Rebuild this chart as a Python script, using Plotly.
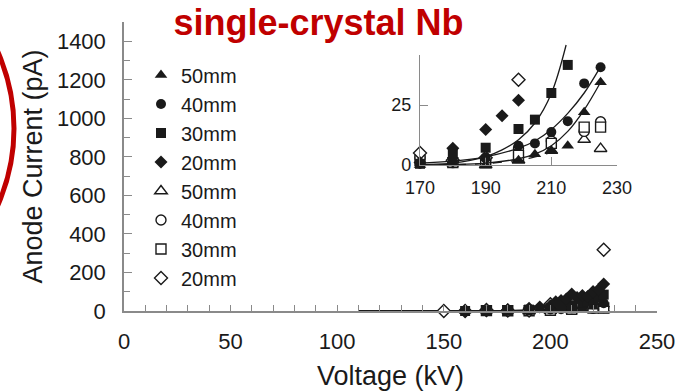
import plotly.graph_objects as go

# ---------------- data ----------------
# filled markers
v_50f = [160, 170, 180, 190, 200, 205, 210, 215, 220, 225]
i_50f = [0, 0, 0.5, 0, 2, 4.5, 6, 8, 22, 34.5]
v_40f = [160, 170, 180, 190, 200, 205, 210, 215, 220, 225]
i_40f = [0, 0.5, 2, 3, 8, 9, 13.7, 18.2, 34, 40.7]
v_30f = [160, 170, 180, 190, 200, 205, 210, 215, 217.5, 220, 222.5, 225]
i_30f = [0, 0.5, 5, 7.2, 15, 18.9, 30, 41.7, 50, 60, 72, 85]
v_20f = [160, 170, 180, 190, 195, 200, 202.5, 205, 207.5, 210, 212.5, 215, 217.5, 220, 222.5, 225]
i_20f = [0, 1, 7, 14.8, 20.5, 27, 48, 55, 62, 88, 70, 80, 75, 100, 110, 140]
# open markers
v_50o = [190, 200, 210, 220, 225]
i_50o = [0, 2, 6, 10.6, 6.8]
v_40o = [170, 180, 190, 200, 210, 220, 225]
i_40o = [3, 1, 2, 7, 10, 14, 18]
v_30o = [170, 180, 190, 200, 210, 220, 225]
i_30o = [2, 1, 1, 4, 9, 15.8, 15.8]
v_20o = [150, 160, 170, 180, 190, 200, 210, 220, 225]
i_20o = [0, 0.5, 5, 2, 3, 35.5, 60, 95, 318]

# fitted curves
fit_v_a = [110, 170, 180, 190, 195, 200, 205, 210, 214.5]
fit_i_a = [0, 0.2, 0.8, 3.5, 6.3, 10.5, 17.5, 29.8, 50]
fit_v_b = [110, 170, 180, 190, 200, 205, 210, 215, 220, 225]
fit_i_b = [0, 0.8, 1.6, 3.4, 7, 10, 14.8, 21.5, 30, 41]
fit_v_c = [110, 170, 180, 190, 200, 205, 210, 215, 220, 225]
fit_i_c = [0, 0, 0.2, 0.8, 2.6, 4.5, 8, 14, 23, 34.5]
fit_v_d = [110, 170, 180, 190, 200, 205, 212]
fit_i_d = [0, 0, 0.1, 0.6, 2, 3.4, 6]

labels = ["50mm", "40mm", "30mm", "20mm", "50mm", "40mm", "30mm", "20mm"]

series = [
    (v_50f, i_50f, "triangle-up", True),
    (v_40f, i_40f, "circle", True),
    (v_30f, i_30f, "square", True),
    (v_20f, i_20f, "diamond", True),
    (v_50o, i_50o, "triangle-up", False),
    (v_40o, i_40o, "circle", False),
    (v_30o, i_30o, "square", False),
    (v_20o, i_20o, "diamond", False),
]
fits = [(fit_v_a, fit_i_a, "solid"), (fit_v_b, fit_i_b, "solid"),
        (fit_v_c, fit_i_c, "solid"), (fit_v_d, fit_i_d, "dash")]

FONT = "Liberation Sans, Arial, sans-serif"
INK = "#1a1a1a"
AXC = "#8a8a8a"
RED = "#c00000"

fig = go.Figure()

# fit lines, main plot
for fx, fy, dash in fits:
    fig.add_trace(go.Scatter(x=fx, y=fy, mode="lines", line=dict(color=INK, width=1.6, dash=dash, shape="spline"),
                             showlegend=False, hoverinfo="skip", xaxis="x", yaxis="y"))
# fit lines, inset (separate axes with a taller domain so lines may rise above the inset frame)
for fx, fy, dash in fits:
    fig.add_trace(go.Scatter(x=fx, y=fy, mode="lines", line=dict(color=INK, width=1.3, dash=dash, shape="spline"),
                             showlegend=False, hoverinfo="skip", xaxis="x3", yaxis="y3"))

# open series drawn first, filled on top
order = [4, 5, 6, 7, 0, 1, 2, 3]
for k in order:
    vx, iy, sym, filled = series[k]
    lab = labels[k]
    size = 11 if sym.startswith("triangle") else 10
    mk = dict(symbol=sym, size=size, color=INK if filled else "white",
              line=dict(color=INK, width=0 if filled else 1.4))
    fig.add_trace(go.Scatter(x=vx, y=iy, mode="markers", marker=mk, name=lab, cliponaxis=False,
                             legendrank=k + 1, xaxis="x", yaxis="y"))
    fig.add_trace(go.Scatter(x=vx, y=iy, mode="markers", marker=mk, name=lab, cliponaxis=False,
                             showlegend=False, xaxis="x2", yaxis="y2"))

# geometry (pixels)
W, H = 677, 391
L, R, T, B = 124, 20, 22, 80
pw, ph = W - L - R, H - T - B
def px(x):
    return (x - L) / pw
def py(y):
    return (H - B - y) / ph

ins_x0, ins_x1 = px(420), px(617)
ins_y0 = py(165)
ins_y1 = py(54.6)
ins_y3 = py(40)
ins_range_y = [0, 46]
ins_range_y3 = [0, 46 * (165 - 40) / (165 - 54.6)]

axis_common = dict(showline=True, linecolor=AXC, linewidth=1.5, ticks="inside", tickcolor=AXC,
                   tickwidth=1.2, showgrid=False, zeroline=False, automargin=False,
                   tickfont=dict(family=FONT, size=22, color=INK))
inset_common = dict(showline=True, linecolor=AXC, linewidth=1.3, ticks="inside", tickcolor=AXC, tickwidth=1.2,
                    ticklen=8, showgrid=False, zeroline=False, automargin=False,
                    tickfont=dict(family=FONT, size=18, color=INK))

fig.update_layout(
    width=W, height=H,
    margin=dict(l=L, r=R, t=T, b=B, autoexpand=False),
    paper_bgcolor="white", plot_bgcolor="rgba(0,0,0,0)",
    font=dict(family=FONT, color=INK),
    title=dict(text="<b>single-crystal Nb</b>", x=318.5 / W, xanchor="center", y=1 - 22 / H, yanchor="middle",
               font=dict(family=FONT, size=36, color=RED), automargin=False),
    xaxis=dict(range=[0, 250], dtick=50, ticklen=6, minor=dict(dtick=10, ticks="inside", ticklen=6, tickcolor=AXC),
               title=dict(text="Voltage (kV)", font=dict(family=FONT, size=27, color=INK), standoff=13),
               ticklabelstandoff=10, **axis_common),
    yaxis=dict(range=[0, 1500], dtick=200, ticklen=8, minor=dict(dtick=100, ticks="inside", ticklen=6, tickcolor=AXC),
               title=dict(text="Anode Current (pA)", font=dict(family=FONT, size=27, color=INK), standoff=6),
               ticklabelstandoff=12, **axis_common),
    xaxis2=dict(domain=[ins_x0, ins_x1], anchor="y2", range=[170, 230], tick0=170, dtick=20,
                ticklabelstandoff=6, **inset_common),
    yaxis2=dict(domain=[ins_y0, ins_y1], anchor="x2", range=ins_range_y, tickvals=[0, 25],
                ticklabelstandoff=4, **inset_common),
    xaxis3=dict(domain=[ins_x0, ins_x1], anchor="y3", range=[170, 230], visible=False),
    yaxis3=dict(domain=[ins_y0, ins_y3], anchor="x3", range=ins_range_y3, visible=False),
    legend=dict(x=px(141), y=py(55.5), xanchor="left", yanchor="top", bgcolor="rgba(0,0,0,0)",
                font=dict(family=FONT, size=20, color=INK), tracegroupgap=0, traceorder="normal"),
    shapes=[dict(type="circle", xref="paper", yref="paper", x0=px(-365), x1=px(14), y0=py(318), y1=py(-61),
                 line=dict(color=RED, width=5), layer="above")],
)

fig.write_html("out.html")
